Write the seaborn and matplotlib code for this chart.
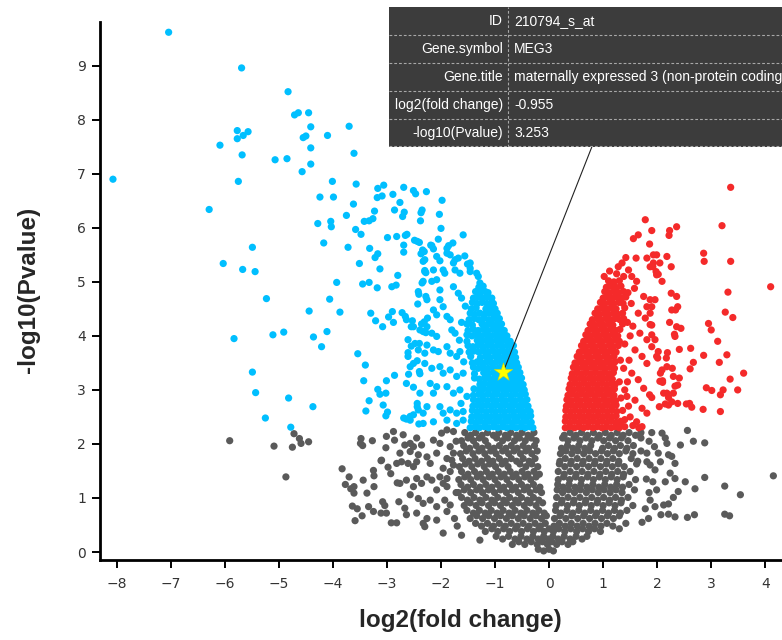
"""
Volcano plot (log2 fold change vs -log10 P) with the MEG3 hover tooltip.

Writes:
    out.png
"""

import matplotlib
matplotlib.use("Agg")
import matplotlib.pyplot as plt
import pandas as pd
import seaborn as sns

OUT = "out.png"
W_PX, H_PX = 782, 640

COLORS = {"ns": "#5a5a5a", "down": "#00bfff", "up": "#f42a2a"}

X_TICKS = list(range(-8, 5))
Y_TICKS = list(range(0, 10))
X_LIM = (-8.31, 4.31)
Y_LIM = (-0.148, 9.81)

# --- down-regulated, readable one by one -----------------------------------
DOWN_POINTS = [
    (-7.04, 9.62), (-8.07, 6.90), (-5.69, 8.96), (-4.83, 8.52), (-6.09, 7.53),
    (-5.77, 7.80), (-5.77, 7.65), (-5.66, 7.71), (-5.57, 7.78), (-5.68, 7.35),
    (-5.75, 6.86), (-6.29, 6.34), (-6.03, 5.34), (-5.49, 5.64), (-5.67, 5.23),
    (-5.44, 5.19), (-5.23, 4.69), (-5.07, 7.26), (-4.85, 7.28), (-4.71, 8.09),
    (-4.64, 8.13), (-4.45, 8.13), (-4.41, 7.87), (-4.55, 7.67), (-4.50, 7.70),
    (-4.41, 7.48), (-4.57, 7.04), (-4.41, 7.18), (-4.10, 7.71), (-3.70, 7.88),
    (-3.61, 7.38), (-4.01, 6.86), (-4.24, 6.57), (-3.99, 6.57), (-3.57, 6.81),
    (-3.62, 6.44), (-4.28, 6.08), (-4.04, 6.12), (-4.03, 6.02), (-3.75, 6.23),
    (-4.17, 5.72), (-3.72, 5.64), (-3.58, 5.97), (-3.48, 5.88), (-3.93, 4.99),
    (-4.06, 4.68), (-4.44, 4.46), (-3.87, 4.44), (-3.51, 5.34), (-3.32, 5.62),
    (-3.17, 6.73), (-3.06, 6.79), (-3.18, 6.56), (-3.09, 6.59), (-2.89, 6.62),
    (-3.23, 6.31), (-2.86, 6.33), (-3.42, 6.12), (-3.33, 6.13), (-3.26, 6.17),
    (-2.99, 5.82), (-2.82, 5.84), (-3.22, 5.45), (-3.17, 5.52), (-3.13, 5.24),
    (-3.45, 4.96), (-3.33, 4.99), (-3.18, 4.89), (-2.91, 4.91), (-2.80, 5.12),
    (-3.30, 4.42),
    (-5.83, 3.95), (-5.11, 4.02), (-4.91, 4.07), (-4.36, 3.98), (-4.11, 4.08),
    (-4.21, 3.80), (-5.49, 3.33), (-5.43, 2.95), (-5.25, 2.48), (-4.82, 2.85),
    (-4.78, 2.31), (-4.37, 2.69), (-3.54, 3.67), (-3.40, 3.46), (-3.43, 3.17),
    (-3.17, 3.01), (-3.13, 2.92), (-3.02, 2.94), (-3.01, 3.17), (-2.86, 3.27),
    (-3.33, 2.80), (-3.07, 2.72), (-3.39, 2.61), (-2.99, 2.59), (-3.02, 2.52),
    (-3.21, 4.28), (-3.08, 4.17), (-2.97, 4.35), (-2.90, 4.45), (-2.88, 4.25),
    (-2.69, 6.75), (-2.51, 6.69), (-2.47, 6.63), (-2.27, 6.67), (-2.76, 6.47),
    (-2.68, 6.29), (-2.71, 6.21), (-2.35, 6.33), (-2.37, 6.28), (-2.38, 6.13),
    (-2.66, 5.86), (-2.63, 5.88), (-2.49, 5.77), (-2.44, 5.75), (-2.69, 5.68),
    (-2.69, 5.55), (-2.34, 5.59), (-2.37, 5.52), (-2.30, 5.41), (-2.30, 5.21),
    (-2.28, 5.17), (-2.35, 4.98), (-2.83, 4.94), (-2.41, 4.77), (-2.28, 4.73),
    (-2.43, 4.59), (-2.72, 4.43), (-2.66, 4.36), (-2.53, 4.28), (-2.55, 4.17),
    (-2.36, 4.22), (-2.31, 4.26), (-2.25, 4.33), (-2.33, 4.08), (-2.28, 4.06),
    (-2.40, 3.86), (-2.55, 3.81), (-2.61, 3.69), (-2.30, 3.68), (-2.51, 3.49),
    (-2.44, 3.54), (-2.40, 3.34), (-2.39, 3.30), (-2.60, 3.29), (-2.51, 3.05),
    (-2.44, 2.75), (-2.44, 2.69), (-2.33, 2.57), (-2.51, 2.54), (-2.57, 2.51),
    (-2.69, 2.48), (-2.64, 2.46), (-2.41, 2.37),
    (-1.98, 6.51), (-2.03, 6.25), (-2.00, 5.99), (-2.19, 5.68), (-2.14, 5.61),
    (-2.05, 5.79), (-1.89, 5.62), (-1.78, 5.72), (-1.59, 5.87), (-1.89, 5.53),
    (-2.08, 5.47), (-2.02, 5.39), (-1.83, 5.50), (-1.74, 5.41), (-1.68, 5.44),
    (-1.56, 5.48), (-1.51, 5.33), (-1.46, 5.25), (-1.34, 5.16), (-1.31, 5.10),
    (-1.25, 4.91), (-2.40, 5.73), (-2.17, 5.67), (-1.86, 5.67), (-2.31, 5.56),
    (-1.46, 5.35), (-2.33, 5.38), (-2.14, 5.22), (-1.96, 5.22), (-1.93, 5.16),
    (-1.77, 5.35), (-1.74, 5.22), (-1.65, 5.16), (-1.46, 5.19), (-1.28, 4.98),
    (-2.30, 5.19), (-2.33, 5.01), (-2.17, 5.01), (-2.08, 5.04), (-2.42, 4.82),
    (-2.26, 4.67), (-2.02, 4.85), (-2.02, 4.67), (-1.96, 4.54), (-1.77, 4.91),
    (-1.68, 4.79), (-1.62, 4.70), (-2.14, 4.48), (-2.08, 4.39), (-2.64, 4.30),
    (-2.51, 4.17), (-2.39, 4.11), (-2.26, 4.17), (-1.89, 4.36), (-1.83, 4.30),
    (-1.80, 4.11), (-1.74, 4.05), (-2.17, 4.05), (-2.08, 3.99), (-2.61, 3.93),
    (-2.48, 3.86), (-2.42, 3.74), (-2.26, 3.83), (-2.14, 3.74), (-2.05, 3.71),
    (-1.89, 3.80), (-1.83, 3.68), (-1.71, 3.62), (-1.65, 3.71), (-2.61, 3.62),
    (-2.57, 3.43), (-2.30, 3.49), (-2.17, 3.40), (-2.02, 3.43), (-1.96, 3.31),
    (-1.83, 3.37), (-1.71, 3.25), (-1.59, 3.31), (-2.64, 3.12), (-2.39, 2.94),
    (-2.20, 3.12), (-2.08, 3.06), (-2.14, 2.94), (-1.89, 3.06), (-1.77, 2.94),
    (-1.65, 3.00), (-1.52, 2.88), (-2.42, 2.63), (-2.26, 2.69), (-2.02, 2.69),
    (-1.96, 2.57), (-1.83, 2.63), (-1.71, 2.57), (-1.59, 2.60), (-2.57, 2.44),
    (-2.33, 2.38), (-2.14, 2.41), (-1.89, 2.44), (-1.71, 2.38), (-1.59, 2.44),
    (-1.62, 4.25), (-1.66, 3.92), (-1.58, 3.52), (-1.63, 2.75), (-1.55, 4.55),
]

# dense core of the down cluster: (y for even points, y for odd points, x values)
DOWN_CORE = [
    (2.30, 2.32, [-1.46, -1.37, -1.29, -1.20, -1.12, -1.03, -0.95, -0.86, -0.78, -0.69, -0.61, -0.52, -0.44, -0.36, -0.30]),
    (2.42, 2.40, [-1.44, -1.35, -1.27, -1.18, -1.10, -1.01, -0.93, -0.84, -0.76, -0.67, -0.59, -0.50, -0.42, -0.33]),
    (2.50, 2.52, [-1.43, -1.34, -1.26, -1.17, -1.09, -1.00, -0.92, -0.83, -0.75, -0.66, -0.58, -0.49, -0.41, -0.34]),
    (2.62, 2.60, [-1.42, -1.33, -1.25, -1.16, -1.07, -0.99, -0.90, -0.82, -0.73, -0.65, -0.56, -0.48, -0.40, -0.35]),
    (2.70, 2.72, [-1.41, -1.32, -1.24, -1.15, -1.06, -0.98, -0.89, -0.81, -0.72, -0.64, -0.55, -0.47, -0.39]),
    (2.82, 2.80, [-1.40, -1.31, -1.23, -1.14, -1.05, -0.97, -0.88, -0.80, -0.71, -0.63, -0.54, -0.46, -0.41]),
    (2.90, 2.92, [-1.40, -1.30, -1.22, -1.13, -1.04, -0.96, -0.87, -0.79, -0.70, -0.62, -0.53, -0.44]),
    (3.02, 3.00, [-1.39, -1.29, -1.21, -1.12, -1.03, -0.95, -0.86, -0.78, -0.69, -0.61, -0.52, -0.46]),
    (3.10, 3.12, [-1.28, -1.20, -1.11, -1.02, -0.94, -0.85, -0.77, -0.68, -0.60, -0.52, -0.48]),
    (3.22, 3.20, [-1.38, -1.29, -1.19, -1.10, -1.01, -0.93, -0.84, -0.76, -0.67, -0.59, -0.51]),
    (3.30, 3.32, [-1.38, -1.21, -1.12, -1.03, -0.94, -0.86, -0.77, -0.69, -0.60, -0.54]),
    (3.42, 3.40, [-1.40, -1.31, -1.22, -1.13, -1.04, -0.95, -0.87, -0.78, -0.70, -0.62, -0.57]),
    (3.50, 3.52, [-1.42, -1.33, -1.24, -1.15, -1.06, -0.97, -0.88, -0.80, -0.71, -0.64, -0.60]),
    (3.62, 3.60, [-1.45, -1.27, -1.18, -1.09, -1.00, -0.91, -0.83, -0.74, -0.66, -0.62]),
    (3.70, 3.72, [-1.48, -1.39, -1.30, -1.21, -1.12, -1.03, -0.94, -0.85, -0.76, -0.68, -0.64]),
    (3.82, 3.80, [-1.50, -1.41, -1.32, -1.23, -1.14, -1.05, -0.96, -0.87, -0.78, -0.70, -0.66]),
    (3.90, 3.92, [-1.52, -1.33, -1.24, -1.15, -1.06, -0.97, -0.88, -0.80, -0.72]),
    (4.02, 4.00, [-1.52, -1.43, -1.34, -1.25, -1.16, -1.07, -0.98, -0.89, -0.82, -0.78]),
    (4.10, 4.12, [-1.50, -1.40, -1.31, -1.22, -1.13, -1.04, -0.96, -0.89, -0.83]),
    (4.22, 4.20, [-1.52, -1.42, -1.24, -1.15, -1.06, -0.97, -0.88]),
    (4.30, 4.32, [-1.48, -1.39, -1.30, -1.21, -1.12, -1.03, -0.95, -0.92]),
    (4.42, 4.40, [-1.46, -1.37, -1.28, -1.19, -1.10, -1.02, -0.96]),
    (4.50, 4.52, [-1.44, -1.35, -1.17, -1.08, -1.00]),
    (4.62, 4.60, [-1.42, -1.33, -1.24, -1.15, -1.06, -1.03]),
    (4.70, 4.72, [-1.40, -1.31, -1.22, -1.13, -1.06]),
    (4.82, 4.80, [-1.36, -1.27, -1.18, -1.13]),
    (4.90, 4.92, [-1.30, -1.22]),
]

# --- up-regulated ------------------------------------------------------------
UP_POINTS = [
    (3.36, 6.75), (1.78, 6.15), (3.20, 6.04), (1.56, 5.80), (1.65, 5.87),
    (1.90, 5.95), (2.23, 5.95), (2.36, 6.02), (2.22, 5.86), (1.86, 5.70),
    (2.86, 5.53), (2.87, 5.38), (3.36, 5.38), (4.10, 4.91), (3.31, 4.81),
    (3.26, 4.44), (3.40, 4.34), (2.95, 4.23), (3.00, 4.11), (3.12, 3.90),
    (3.29, 3.65), (3.15, 3.51), (3.60, 3.31), (3.35, 3.20), (3.49, 3.00),
    (3.22, 3.00), (3.17, 2.91), (2.91, 3.04), (3.01, 2.99), (2.85, 2.64),
    (3.17, 2.60), (2.62, 3.77), (2.67, 3.51), (2.61, 3.39), (2.86, 3.64),
    (2.41, 3.75), (2.28, 3.40), (2.41, 3.22), (2.38, 3.09), (2.30, 2.94),
    (2.38, 2.75), (2.54, 2.74), (2.64, 2.68), (2.26, 4.79), (2.44, 4.14),
    (2.32, 4.03), (2.34, 4.48), (2.38, 4.54), (2.23, 4.25), (2.19, 3.69),
    (2.17, 3.59), (2.06, 3.31), (2.10, 3.17), (2.18, 2.94), (1.86, 2.91),
    (1.90, 2.86), (2.04, 2.69), (2.15, 2.74), (1.96, 3.93), (2.02, 3.71),
    (2.18, 5.47), (2.26, 5.28), (2.09, 5.01), (1.92, 5.28), (1.98, 5.19),
    (1.93, 5.50), (2.02, 5.14), (1.93, 5.35), (1.96, 4.67), (1.90, 4.54),
    (1.87, 4.42), (1.90, 4.20), (1.90, 4.02), (2.01, 3.59), (2.21, 2.86),
    (2.60, 2.75), (2.10, 3.14),
    (1.61, 5.44), (1.81, 5.44), (1.99, 5.50), (2.05, 5.35), (1.87, 5.28),
    (1.99, 5.13), (1.47, 5.22), (1.53, 5.10), (1.62, 5.01), (1.28, 5.28),
    (1.38, 5.10), (1.13, 4.98), (1.22, 4.85), (1.75, 4.73), (1.87, 4.67),
    (1.81, 4.54), (1.65, 4.42), (1.78, 4.33), (1.87, 4.21), (1.68, 4.05),
    (1.81, 3.93), (1.90, 3.80), (1.59, 3.74), (1.72, 3.62), (1.81, 3.49),
    (1.53, 3.31), (1.65, 3.19), (1.75, 3.03), (1.44, 2.88), (1.59, 2.81),
    (1.72, 2.66), (1.81, 2.57), (1.50, 2.50), (1.62, 2.41), (1.72, 2.32),
    (1.99, 3.62), (2.09, 3.37), (2.18, 3.43), (2.05, 3.16), (2.30, 3.25),
    (2.33, 3.07), (2.12, 2.94), (2.27, 2.78), (2.21, 2.72), (2.27, 4.48),
    (2.36, 4.73), (2.36, 4.17), (2.33, 3.99),
    (1.33, 2.35), (1.40, 2.45), (1.36, 2.62), (1.47, 2.70), (1.33, 2.85),
    (1.40, 3.00), (1.30, 3.15), (1.45, 3.15), (1.38, 3.40), (1.32, 3.55),
    (1.48, 3.55), (1.40, 3.85), (1.50, 4.00), (1.45, 4.25), (1.55, 4.18),
    (1.52, 4.60), (1.46, 4.80), (1.58, 4.88), (1.35, 5.35), (1.25, 5.15),
    (1.42, 5.45), (1.12, 5.20), (1.02, 5.10), (1.66, 2.30), (1.55, 2.34),
]

UP_CORE = [
    (2.30, 2.32, [0.30, 0.38, 0.47, 0.55, 0.64, 0.72, 0.81, 0.89, 0.98, 1.06, 1.15, 1.23, 1.30, 1.40]),
    (2.42, 2.40, [0.30, 0.39, 0.47, 0.56, 0.64, 0.73, 0.81, 0.90, 0.98, 1.07, 1.15, 1.24, 1.32]),
    (2.50, 2.52, [0.31, 0.39, 0.48, 0.56, 0.65, 0.73, 0.82, 0.90, 0.99, 1.07, 1.16, 1.24]),
    (2.62, 2.60, [0.31, 0.40, 0.48, 0.57, 0.65, 0.74, 0.82, 0.91, 0.99, 1.08, 1.16, 1.25]),
    (2.70, 2.72, [0.32, 0.40, 0.49, 0.57, 0.66, 0.74, 0.83, 0.91, 1.00, 1.08, 1.17, 1.24]),
    (2.82, 2.80, [0.33, 0.41, 0.50, 0.58, 0.67, 0.75, 0.84, 0.92, 1.01, 1.09, 1.17, 1.23]),
    (2.90, 2.92, [0.35, 0.43, 0.52, 0.60, 0.69, 0.77, 0.86, 0.94, 1.03, 1.11, 1.20]),
    (3.02, 3.00, [0.37, 0.45, 0.54, 0.62, 0.71, 0.79, 0.88, 0.96, 1.05, 1.13, 1.21]),
    (3.10, 3.12, [0.39, 0.47, 0.56, 0.64, 0.73, 0.81, 0.90, 0.98, 1.07, 1.15, 1.22]),
    (3.22, 3.20, [0.41, 0.49, 0.58, 0.66, 0.75, 0.83, 0.92, 1.00, 1.09, 1.17]),
    (3.30, 3.32, [0.43, 0.51, 0.60, 0.68, 0.77, 0.85, 0.94, 1.02, 1.11, 1.19]),
    (3.42, 3.40, [0.45, 0.53, 0.62, 0.70, 0.79, 0.87, 0.96, 1.04, 1.13, 1.21]),
    (3.50, 3.52, [0.48, 0.56, 0.65, 0.73, 0.82, 0.90, 0.99, 1.07, 1.16, 1.22]),
    (3.62, 3.60, [0.52, 0.60, 0.69, 0.77, 0.86, 0.94, 1.03, 1.11, 1.20]),
    (3.70, 3.72, [0.56, 0.64, 0.73, 0.81, 0.90, 0.98, 1.07, 1.15, 1.24]),
    (3.82, 3.80, [0.60, 0.68, 0.77, 0.85, 0.94, 1.02, 1.11, 1.19, 1.28]),
    (3.90, 3.92, [0.64, 0.72, 0.81, 0.89, 0.98, 1.06, 1.15, 1.23, 1.30]),
    (4.02, 4.00, [0.68, 0.76, 0.85, 0.93, 1.02, 1.10, 1.19, 1.27]),
    (4.10, 4.12, [0.72, 0.80, 0.89, 0.97, 1.06, 1.14, 1.23, 1.31]),
    (4.22, 4.20, [0.76, 0.84, 0.93, 1.01, 1.10, 1.18, 1.36]),
    (4.30, 4.32, [0.80, 0.88, 0.97, 1.05, 1.14, 1.22, 1.31, 1.38]),
    (4.42, 4.40, [0.85, 0.93, 1.02, 1.10, 1.19, 1.27, 1.36]),
    (4.50, 4.52, [0.90, 0.98, 1.07, 1.15, 1.24, 1.40]),
    (4.62, 4.60, [0.95, 1.03, 1.12, 1.20, 1.29, 1.37]),
    (4.70, 4.72, [1.00, 1.08, 1.17, 1.25, 1.34, 1.42]),
    (4.82, 4.80, [1.03, 1.12, 1.20, 1.29, 1.38]),
    (4.90, 4.92, [1.06, 1.15, 1.24, 1.33]),
    (5.02, 5.00, [1.10, 1.20, 1.30]),
]

# --- not significant -------------------------------------------------------
NS_POINTS = [
    (-5.91, 2.06), (-5.09, 1.96), (-4.87, 1.39), (-4.72, 2.19), (-4.75, 1.94),
    (-4.62, 2.10), (-4.59, 2.01), (-4.45, 2.04), (-3.83, 1.54), (-3.70, 1.39),
    (-3.77, 1.25), (-3.67, 1.17), (-3.61, 1.21), (-3.61, 1.09), (-3.37, 1.09),
    (-3.44, 1.33), (-3.24, 1.21), (-3.25, 1.51), (-3.24, 1.41), (-3.11, 1.69),
    (-2.98, 1.57), (-2.93, 1.45), (-2.82, 1.64), (-2.81, 1.28), (-3.64, 0.85),
    (-3.55, 0.80), (-3.59, 0.58), (-3.46, 0.67), (-3.34, 0.84), (-3.25, 0.75),
    (-3.11, 0.72), (-3.08, 0.93), (-3.04, 0.86), (-3.01, 0.72), (-2.92, 0.54),
    (-2.82, 0.54), (-2.78, 0.93), (-3.48, 2.10), (-3.49, 2.01), (-3.27, 2.06),
    (-3.45, 1.97), (-3.01, 2.14), (-2.88, 2.23), (-2.86, 2.07), (-3.02, 1.93),
    (-3.10, 1.70),
    (-2.70, 2.17), (-2.67, 1.98), (-2.57, 2.01), (-2.45, 2.11), (-2.36, 1.98),
    (-2.14, 2.07), (-1.99, 2.20), (-1.89, 2.26), (-1.77, 2.23), (-2.73, 1.67),
    (-2.61, 1.64), (-2.51, 1.58), (-2.42, 1.80), (-2.45, 1.67), (-2.26, 1.76),
    (-2.20, 1.64), (-2.08, 1.83), (-2.76, 1.27), (-2.64, 1.33), (-2.51, 1.21),
    (-2.45, 1.36), (-2.36, 1.27), (-2.26, 1.39), (-2.17, 1.33), (-2.08, 1.15),
    (-1.96, 1.27), (-1.89, 1.21), (-2.57, 1.06), (-2.42, 0.99), (-2.33, 0.90),
    (-2.20, 0.96), (-2.08, 0.84), (-1.93, 0.96), (-1.83, 0.87), (-2.45, 0.72),
    (-2.33, 0.53), (-2.26, 0.62), (-2.08, 0.59), (-1.89, 0.75), (-2.30, 0.47),
    (-1.96, 0.35), (-1.62, 0.31), (-1.28, 0.22), (-2.76, 1.83), (-2.51, 1.95),
    (-2.57, 1.86), (-2.02, 2.01), (-1.83, 1.95), (-1.77, 1.83), (-1.89, 1.73),
    (-1.96, 1.55), (-1.83, 1.49), (-1.77, 1.61), (-2.02, 1.39), (-1.89, 1.36),
    (-2.67, 0.81), (-2.64, 0.69), (-1.72, 1.10), (-1.75, 0.62), (-1.70, 0.48),
    (-1.80, 1.70), (-1.72, 2.05),
    (2.56, 2.25), (2.67, 2.05), (2.88, 2.02), (2.43, 1.98), (2.88, 1.38),
    (3.25, 1.22), (3.54, 1.06), (4.15, 1.41), (2.56, 0.64), (2.69, 0.69),
    (3.25, 0.70), (3.34, 0.67), (2.52, 1.30), (2.70, 1.17), (2.33, 0.65),
    (2.21, 0.70), (2.07, 0.69), (2.39, 1.12), (2.30, 1.01), (2.21, 0.89),
    (2.12, 0.87), (2.15, 1.30), (2.24, 1.46), (2.33, 1.36), (2.27, 1.77),
    (2.33, 1.64), (2.21, 1.80), (2.02, 1.83), (2.06, 1.67), (2.15, 2.11),
    (2.18, 2.01), (2.09, 2.20), (1.90, 2.21), (1.96, 1.52), (1.99, 1.15),
    (1.87, 0.96), (1.96, 0.84), (1.81, 1.83), (1.81, 1.67), (1.87, 1.61),
    (1.85, 2.05), (1.95, 1.95), (1.80, 1.35), (1.92, 1.30), (1.85, 1.10),
    (1.78, 0.80), (1.84, 0.62), (1.72, 0.55),
]

NS_CORE = [
    (2.21, 2.16, [-1.56, -1.45, -1.36, -1.24, -1.14, -1.03, -0.93, -0.81, -0.71, -0.60, -0.50, -0.39, -0.28,
                  0.28, 0.39, 0.50, 0.60, 0.71, 0.82, 0.93, 1.04, 1.15, 1.26, 1.37, 1.48, 1.60, 1.70]),
    (2.06, 2.11, [-1.62, -1.50, -1.40, -1.29, -1.18, -0.97, -0.86, -0.76, -0.64, -0.55, -0.44, -0.33, -0.24,
                  0.25, 0.35, 0.46, 0.57, 0.68, 0.79, 0.90, 1.01, 1.12, 1.23, 1.34, 1.46, 1.70]),
    (1.97, 1.92, [-1.58, -1.47, -1.35, -1.24, -1.13, -1.02, -0.92, -0.80, -0.70, -0.59, -0.48, -0.38, -0.27,
                  0.23, 0.34, 0.44, 0.55, 0.66, 0.77, 0.99, 1.10, 1.21, 1.32, 1.44, 1.56]),
    (1.82, 1.87, [-1.64, -1.53, -1.41, -1.30, -1.19, -1.08, -0.98, -0.86, -0.75, -0.65, -0.53, -0.43, -0.32, -0.22,
                  0.21, 0.31, 0.42, 0.53, 0.64, 0.75, 0.86, 0.97, 1.08, 1.19, 1.30, 1.42, 1.55, 1.70]),
    (1.73, 1.68, [-1.60, -1.48, -1.37, -1.25, -1.14, -1.04, -0.92, -0.81, -0.70, -0.60, -0.48, -0.37, -0.26,
                  0.20, 0.30, 0.41, 0.52, 0.63, 0.74, 0.85, 0.96, 1.07, 1.18, 1.29, 1.52, 1.64]),
    (1.58, 1.63, [-1.66, -1.55, -1.43, -1.32, -1.20, -1.10, -0.99, -0.87, -0.76, -0.54, -0.43, -0.32, -0.21,
                  0.19, 0.29, 0.40, 0.51, 0.62, 0.73, 0.84, 0.95, 1.06, 1.17, 1.28, 1.39, 1.62]),
    (1.49, 1.44, [-1.62, -1.50, -1.38, -1.27, -1.16, -1.05, -0.94, -0.83, -0.72, -0.61, -0.50, -0.39, -0.28, -0.18,
                  0.17, 0.28, 0.39, 0.50, 0.61, 0.72, 0.83, 0.94, 1.05, 1.16, 1.27, 1.38, 1.50]),
    (1.34, 1.39, [-1.67, -1.56, -1.45, -1.33, -1.22, -1.11, -1.00, -0.89, -0.78, -0.67, -0.56, -0.45, -0.34, -0.24,
                  0.17, 0.27, 0.38, 0.49, 0.60, 0.71, 0.82, 0.93, 1.04, 1.15, 1.26, 1.37, 1.60]),
    (1.25, 1.20, [-1.63, -1.51, -1.40, -1.28, -1.17, -1.06, -0.95, -0.84, -0.73, -0.62, -0.51, -0.40, -0.29, -0.17,
                  0.16, 0.26, 0.37, 0.48, 0.59, 0.70, 0.81, 0.92, 1.03, 1.14, 1.25, 1.36, 1.48]),
    (1.10, 1.15, [-1.68, -1.57, -1.45, -1.34, -1.23, -1.12, -1.01, -0.90, -0.79, -0.68, -0.57, -0.46, -0.35, -0.24, -0.14,
                  0.15, 0.25, 0.36, 0.47, 0.58, 0.69, 0.80, 0.91, 1.02, 1.13, 1.24, 1.35, 1.58]),
    (1.01, 0.96, [-1.62, -1.51, -1.39, -1.28, -1.17, -1.06, -0.95, -0.84, -0.73, -0.62, -0.51, -0.40, -0.29, -0.19,
                  0.14, 0.24, 0.35, 0.46, 0.57, 0.68, 0.79, 0.90, 1.01, 1.12, 1.23, 1.34, 1.46]),
    (0.86, 0.91, [-1.57, -1.46, -1.35, -1.24, -1.12, -1.01, -0.90, -0.79, -0.68, -0.57, -0.46, -0.35, -0.24, -0.12,
                  0.13, 0.23, 0.34, 0.45, 0.56, 0.67, 0.78, 0.89, 1.00, 1.11, 1.22, 1.33, 1.55]),
    (0.77, 0.72, [-1.52, -1.40, -1.29, -1.18, -1.07, -0.96, -0.85, -0.74, -0.63, -0.52, -0.41, -0.30, -0.19, -0.09,
                  0.12, 0.22, 0.33, 0.44, 0.55, 0.66, 0.77, 0.88, 0.99, 1.10, 1.21, 1.32, 1.44]),
    (0.62, 0.67, [-1.46, -1.34, -1.23, -1.12, -1.01, -0.90, -0.79, -0.68, -0.57, -0.46, -0.35, -0.24, -0.14, -0.05,
                  0.10, 0.20, 0.31, 0.42, 0.53, 0.64, 0.75, 0.86, 0.97, 1.08, 1.19, 1.30]),
    (0.53, 0.48, [-1.36, -1.25, -1.14, -1.03, -0.92, -0.81, -0.70, -0.59, -0.48, -0.37, -0.26, -0.16, -0.07,
                  0.09, 0.19, 0.30, 0.41, 0.52, 0.63, 0.74, 0.85, 0.96, 1.07, 1.18, 1.42]),
    (0.38, 0.43, [-1.18, -1.06, -0.95, -0.84, -0.73, -0.62, -0.51, -0.40, -0.29, -0.19, -0.09, 0.00,
                  0.08, 0.18, 0.29, 0.40, 0.51, 0.62, 0.73, 0.84, 0.95, 1.30]),
    (0.29, 0.24, [-0.98, -0.86, -0.75, -0.63, -0.52, -0.41, -0.30, -0.20, -0.10, -0.01,
                  0.07, 0.17, 0.28, 0.39, 0.50, 0.61, 0.70]),
    (0.14, 0.19, [-0.68, -0.56, -0.45, -0.33, -0.22, -0.12, -0.03, 0.05, 0.14, 0.24, 0.35, 0.44]),
    (0.05, 0.02, [-0.20, -0.10, 0.00, 0.08]),
]

# hovered gene (star) and its tooltip
HIGHLIGHT = (-0.85, 3.33)
TIP_FIELDS = ["ID", "Gene.symbol", "Gene.title", "log2(fold change)", "-log10(Pvalue)"]
TIP_VALUES = ["210794_s_at", "MEG3", "maternally expressed 3 (non-protein coding)", "-0.955", "3.253"]

sns.set_theme(style="white")
plt.rcParams["font.family"] = ["Liberation Sans", "DejaVu Sans"]


def expand_rows(rows):
    pts = []
    for y_even, y_odd, xs in rows:
        for i, x in enumerate(xs):
            pts.append((x, y_even if i % 2 == 0 else y_odd))
    return pts


def build_frame():
    parts = []
    for group, pts in [("ns", NS_POINTS + expand_rows(NS_CORE)),
                       ("down", DOWN_POINTS + expand_rows(DOWN_CORE)),
                       ("up", UP_POINTS + expand_rows(UP_CORE))]:
        d = pd.DataFrame(pts, columns=["log2fc", "nlog10p"])
        d["group"] = group
        parts.append(d)
    return pd.concat(parts, ignore_index=True)


def px_box(left, top, right, bottom):
    """figure-fraction rect from pixel edges (origin top-left)"""
    return [left / W_PX, 1 - bottom / H_PX, (right - left) / W_PX, (bottom - top) / H_PX]


def draw_tooltip(fig):
    left, top, right, bottom = 389, 7, 820, 146.5
    tip = fig.add_axes(px_box(left, top, right, bottom), facecolor="#3c3c3c", zorder=5)
    tip.set_xlim(0, right - left)
    tip.set_ylim(bottom - top, 0)
    tip.set_xticks([])
    tip.set_yticks([])
    for s in tip.spines.values():
        s.set_visible(False)
    row_h = (bottom - top) / len(TIP_FIELDS)
    col = 508 - left
    dash = dict(color="#a8a8a8", lw=0.8, ls=(0, (2.5, 1.8)))
    for i in range(1, len(TIP_FIELDS)):
        tip.axhline(i * row_h, **dash)
    tip.axhline(bottom - top - 0.6, **dash)
    tip.axvline(col, **dash)
    for i, (k, v) in enumerate(zip(TIP_FIELDS, TIP_VALUES)):
        yc = (i + 0.5) * row_h
        tip.text(col - 5, yc, k, ha="right", va="center", color="white", fontsize=10)
        tip.text(col + 6, yc, v, ha="left", va="center", color="white", fontsize=10)
    return (592 / W_PX, 1 - bottom / H_PX)


def main():
    df = build_frame()

    fig = plt.figure(figsize=(W_PX / 100, H_PX / 100), dpi=100)
    ax = fig.add_axes(px_box(100, 22, 782, 560))

    sns.scatterplot(data=df, x="log2fc", y="nlog10p", hue="group", palette=COLORS,
                    s=27, linewidth=0, legend=False, ax=ax, zorder=2)
    sns.scatterplot(x=[HIGHLIGHT[0]], y=[HIGHLIGHT[1]], marker="*", s=190, color="#ffff00",
                    edgecolor="#d8d800", linewidth=0.4, ax=ax, zorder=4)

    ax.set_xlim(*X_LIM)
    ax.set_ylim(*Y_LIM)
    ax.set_xticks(X_TICKS)
    ax.set_yticks(Y_TICKS)
    ax.set_xlabel("")
    ax.set_ylabel("")
    sns.despine(ax=ax)
    for side in ("left", "bottom"):
        ax.spines[side].set_linewidth(2.0)
        ax.spines[side].set_color("black")
    ax.tick_params(axis="both", direction="out", length=6, width=1.4, color="black",
                   labelsize=10, labelcolor="#333333", bottom=True, left=True)
    ax.tick_params(axis="x", pad=6)
    ax.tick_params(axis="y", pad=4)
    for lab in ax.get_xticklabels() + ax.get_yticklabels():
        lab.set_family(["DejaVu Sans"])

    fig.text(460 / W_PX, 1 - 621 / H_PX, "log2(fold change)", ha="center", va="center",
             fontsize=17.5, fontweight="bold")
    fig.text(29 / W_PX, 1 - 290 / H_PX, "-log10(Pvalue)", ha="center", va="center",
             rotation=90, fontsize=17.5, fontweight="bold")

    anchor = draw_tooltip(fig)
    ax.annotate("", xy=HIGHLIGHT, xycoords="data", xytext=anchor, textcoords="figure fraction",
                arrowprops=dict(arrowstyle="-", color="#222222", lw=0.8, shrinkA=0, shrinkB=0),
                zorder=3)

    fig.savefig(OUT, dpi=100)
    plt.close(fig)


if __name__ == "__main__":
    main()
